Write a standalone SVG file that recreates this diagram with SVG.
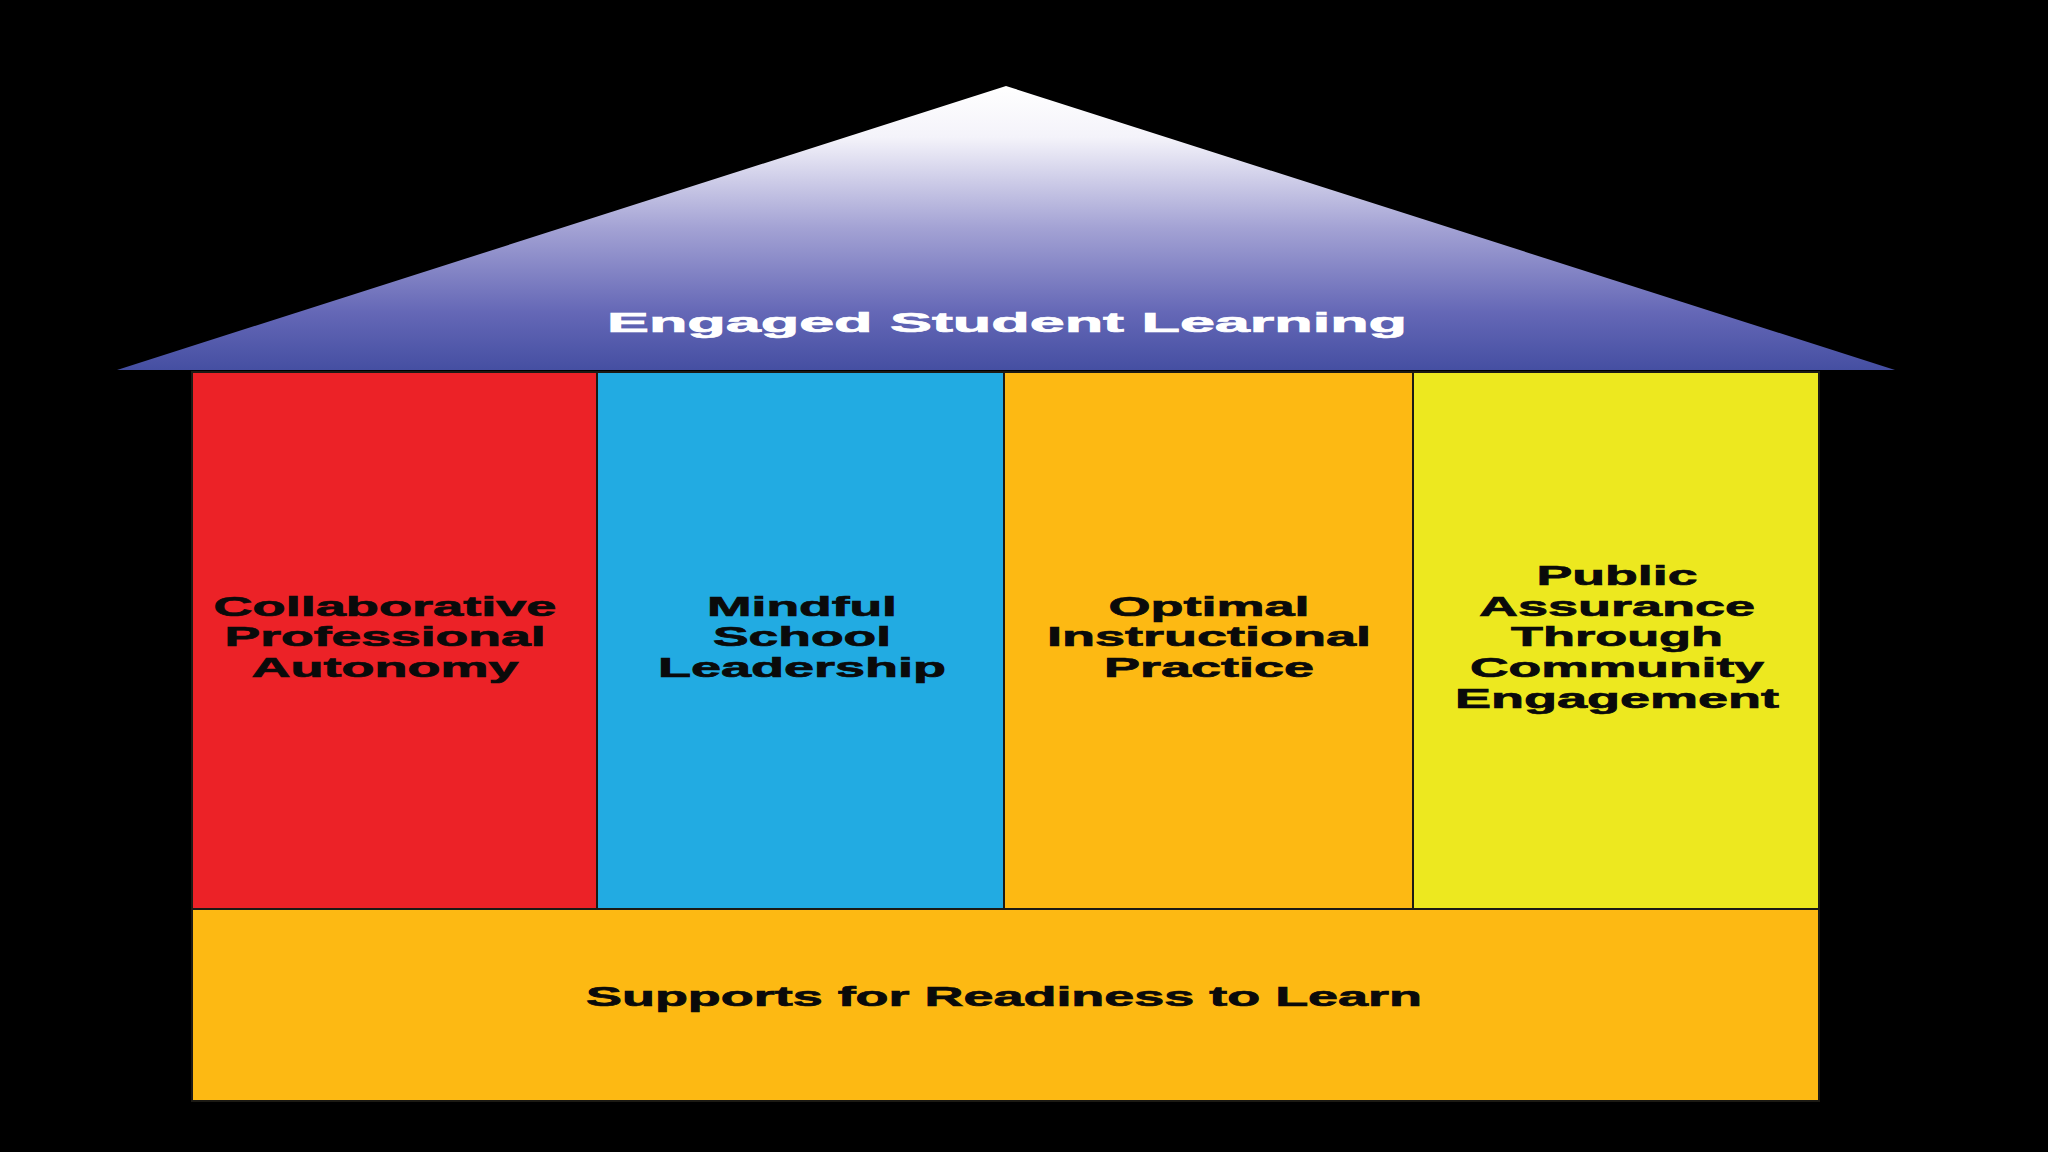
<svg xmlns="http://www.w3.org/2000/svg" width="2048" height="1152" viewBox="0 0 2048 1152">
<defs>
<linearGradient id="roofGrad" x1="0" y1="86" x2="0" y2="370" gradientUnits="userSpaceOnUse">
<stop offset="0" stop-color="#ffffff"/>
<stop offset="0.18" stop-color="#f4f3fa"/>
<stop offset="0.5" stop-color="#a3a2d4"/>
<stop offset="0.8" stop-color="#6467b6"/>
<stop offset="1" stop-color="#454fa2"/>
</linearGradient>
</defs>
<style>
.lbl{font-family:"Liberation Sans",Arial,sans-serif;font-weight:bold;font-size:28px;text-anchor:middle;stroke-width:0.7}
.dark{fill:#0a0a0a;stroke:#0a0a0a}
.light{fill:#ffffff;stroke:#ffffff}
.col{stroke:#1c1a14;stroke-width:2}
</style>
<rect x="0" y="0" width="2048" height="1152" fill="#000000"/>
<g id="roof">
<polygon points="1006,86 117,370 1895,370" fill="url(#roofGrad)"/>
<text class="lbl light" x="1007" y="332" textLength="800" lengthAdjust="spacingAndGlyphs">Engaged Student Learning</text>
</g>
<g id="pillar-collaborative">
<rect class="col" x="192" y="372" width="405" height="537" fill="#ec2227"/>
<text class="lbl dark" x="385" y="616" textLength="343" lengthAdjust="spacingAndGlyphs">Collaborative</text>
<text class="lbl dark" x="385" y="646" textLength="321" lengthAdjust="spacingAndGlyphs">Professional</text>
<text class="lbl dark" x="385" y="677" textLength="267" lengthAdjust="spacingAndGlyphs">Autonomy</text>
</g>
<g id="pillar-mindful">
<rect class="col" x="597" y="372" width="407" height="537" fill="#22abe2"/>
<text class="lbl dark" x="802" y="616" textLength="190" lengthAdjust="spacingAndGlyphs">Mindful</text>
<text class="lbl dark" x="802" y="646" textLength="178" lengthAdjust="spacingAndGlyphs">School</text>
<text class="lbl dark" x="802" y="677" textLength="288" lengthAdjust="spacingAndGlyphs">Leadership</text>
</g>
<g id="pillar-optimal">
<rect class="col" x="1004" y="372" width="409" height="537" fill="#fdb913"/>
<text class="lbl dark" x="1209" y="616" textLength="201" lengthAdjust="spacingAndGlyphs">Optimal</text>
<text class="lbl dark" x="1209" y="646" textLength="324" lengthAdjust="spacingAndGlyphs">Instructional</text>
<text class="lbl dark" x="1209" y="677" textLength="210" lengthAdjust="spacingAndGlyphs">Practice</text>
</g>
<g id="pillar-public">
<rect class="col" x="1413" y="372" width="406" height="537" fill="#ede81f"/>
<text class="lbl dark" x="1617" y="585" textLength="161" lengthAdjust="spacingAndGlyphs">Public</text>
<text class="lbl dark" x="1617" y="616" textLength="276" lengthAdjust="spacingAndGlyphs">Assurance</text>
<text class="lbl dark" x="1617" y="646" textLength="212" lengthAdjust="spacingAndGlyphs">Through</text>
<text class="lbl dark" x="1617" y="677" textLength="294" lengthAdjust="spacingAndGlyphs">Community</text>
<text class="lbl dark" x="1617" y="708" textLength="324" lengthAdjust="spacingAndGlyphs">Engagement</text>
</g>
<g id="foundation">
<rect class="col" x="192" y="909" width="1627" height="192" fill="#fdb913"/>
<text class="lbl dark" x="1004" y="1006" textLength="836" lengthAdjust="spacingAndGlyphs">Supports for Readiness to Learn</text>
</g>
<g id="connectors"></g>
</svg>
